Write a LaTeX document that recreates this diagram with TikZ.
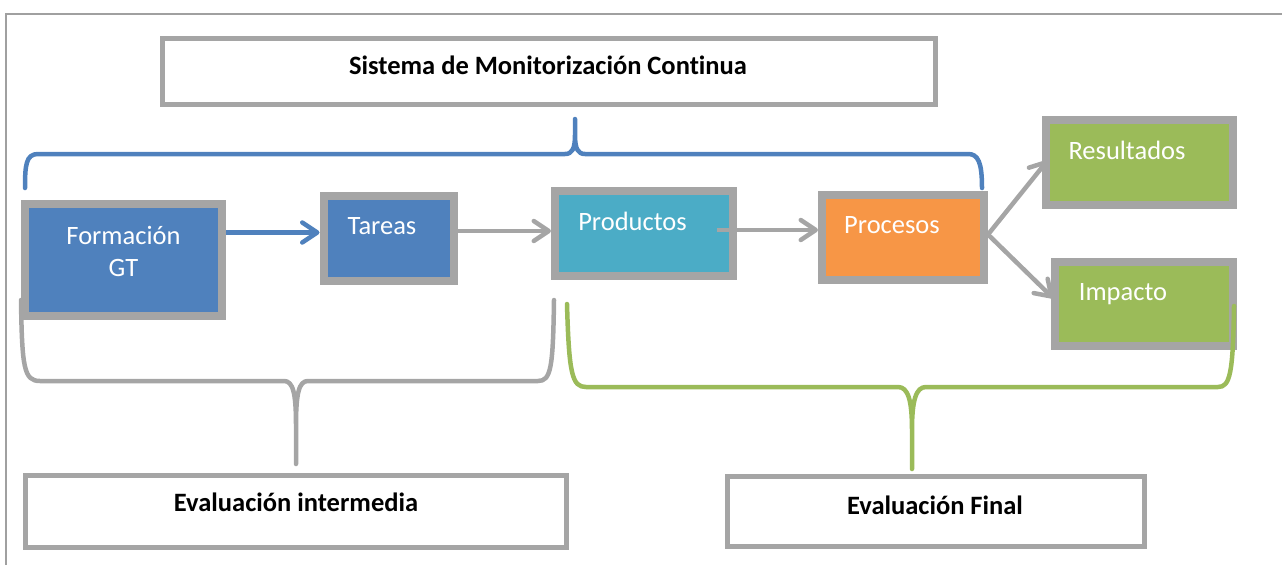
\documentclass[tikz,border=0pt]{standalone}
\usepackage{fontspec}
\setmainfont{Carlito}[Ligatures=CommonOff]
\usetikzlibrary{arrows.meta}
\definecolor{boxgray}{HTML}{A5A5A5}
\definecolor{framegray}{HTML}{A0A0A0}
\definecolor{gtblue}{HTML}{4F81BD}
\definecolor{prodteal}{HTML}{4BACC6}
\definecolor{procorange}{HTML}{F79646}
\definecolor{resgreen}{HTML}{9BBB59}
\begin{document}
\begin{tikzpicture}
[x=1pt,y=-1pt,
  boxdecorate/.style={draw=boxgray,line width=8pt,inner sep=0pt},%
  whitebox/.style={draw=boxgray,line width=5pt,fill=white,inner sep=0pt},%
  boxtext/.style={text=white,font=\fontsize{26.5}{32}\selectfont,anchor=base,inner sep=0pt},%
  titletext/.style={font=\bfseries\fontsize{26.5}{32}\selectfont,anchor=base,inner sep=0pt},%
  arrowdecorate/.style={-{Straight Barb[length=15pt,width=20pt,round]},line width=4.5pt,draw=boxgray},%
  bracedecorate/.style={line width=4.5pt,line cap=round,line join=round}]
\useasboundingbox (0,0) rectangle (1282,565);
% frame
\draw[framegray,line width=1.5pt] (6,565) -- (6,14) -- (1282,14);
% white boxes
\node (sistema) at (549,71.5) [whitebox,minimum width=773pt,minimum height=66pt] {};
\node (intermedia) at (296,511) [whitebox,minimum width=541pt,minimum height=72pt] {};
\node (final) at (935.5,511.5) [whitebox,minimum width=417pt,minimum height=70pt] {};
% coloured boxes
\node (formacion) at (123.5,260) [boxdecorate,fill=gtblue,minimum width=197pt,minimum height=112pt] {};
\node (tareas) at (388.5,238.5) [boxdecorate,fill=gtblue,minimum width=130pt,minimum height=85pt] {};
\node (productos) at (644,233) [boxdecorate,fill=prodteal,minimum width=178pt,minimum height=85pt] {};
\node (procesos) at (903,237.5) [boxdecorate,fill=procorange,minimum width=162pt,minimum height=85pt] {};
\node (resultados) at (1139,162.5) [boxdecorate,fill=resgreen,minimum width=187pt,minimum height=85pt] {};
\node (impacto) at (1144,304) [boxdecorate,fill=resgreen,minimum width=178pt,minimum height=84pt] {};
% texts
\node (sistematext) at (548,74) [titletext] {Sistema de Monitorización Continua};
\node (intermediatext) at (296,511.5) [titletext] {Evaluación intermedia};
\node (finaltext) at (935,514) [titletext] {Evaluación Final};
\node (formaciontext) at (123.5,276) [boxtext,align=center] {Formación\\GT};
\node (tareastext) at (382,234) [boxtext] {Tareas};
\node (productostext) at (632.5,230) [boxtext] {Productos};
\node (procesostext) at (892,233) [boxtext] {Procesos};
\node (resultadostext) at (1127,159) [boxtext] {Resultados};
\node (impactotext) at (1123,300) [boxtext] {Impacto};
% arrows
\draw[arrowdecorate,draw=gtblue] ([yshift=6pt]tareas.west -| formacion.east) -- ([yshift=6pt]tareas.west);
\draw[arrowdecorate] ([yshift=2pt]productos.west -| tareas.east) -- ([yshift=2pt]productos.west);
\draw[arrowdecorate] ([xshift=-20pt,yshift=3pt]productos.east) -- ([yshift=3pt]productos.east -| procesos.west);
\draw[arrowdecorate] ([yshift=3pt]procesos.east) -- ([xshift=6pt,yshift=2pt]resultados.west);
\draw[arrowdecorate] ([yshift=3pt]procesos.east) -- ([xshift=2pt,yshift=6pt]impacto.west);
% braces
\draw[bracedecorate,gtblue] (25,188) .. controls (25,165) and (26,154) .. (38,154) -- (565,154)
  .. controls (572,154) and (575,149) .. (575,135) -- (575,119)
  (575,135) .. controls (575,149) and (578,154) .. (585,154) -- (968,154)
  .. controls (978,154) and (982,162) .. (982,188);
\draw[bracedecorate,boxgray] (21,300) .. controls (22,368) and (24,381) .. (40,381) -- (284,381)
  .. controls (293,381) and (296,393) .. (296,425) -- (296,464)
  (296,425) .. controls (296,393) and (299,381) .. (308,381) -- (538,381)
  .. controls (551,381) and (553,368) .. (554,300);
\draw[bracedecorate,resgreen] (567,304) .. controls (569,374) and (572,387) .. (586,387) -- (898,387)
  .. controls (908,387) and (912,400) .. (912,430) -- (912,469)
  (912,430) .. controls (912,400) and (916,387) .. (926,387) -- (1218,387)
  .. controls (1230,387) and (1233,374) .. (1234,306);
\end{tikzpicture}
\end{document}
